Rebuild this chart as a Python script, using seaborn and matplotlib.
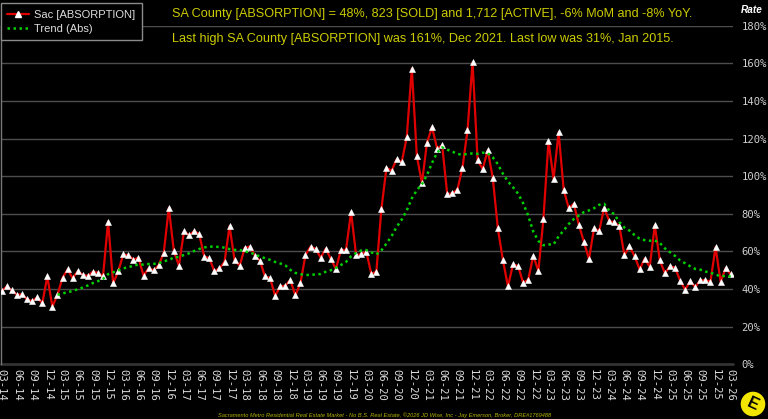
import numpy as np
import pandas as pd
import matplotlib
matplotlib.use("Agg")
import matplotlib.pyplot as plt
from matplotlib.lines import Line2D
from matplotlib.patches import Ellipse
import seaborn as sns

# ---------------- data ----------------
months = pd.date_range("2014-03-01", periods=145, freq="MS")

absorption = [
    39.0, 41.4, 39.3, 37.0, 37.2, 34.5, 33.6, 35.6, 32.4, 46.7, 30.6, 37.0,
    46.0, 50.4, 45.8, 49.5, 47.6, 47.0, 49.2, 48.7, 46.7, 75.9, 43.0, 49.4,
    58.4, 58.0, 55.7, 56.6, 47.2, 51.0, 50.0, 52.7, 59.3, 83.2, 60.0, 52.5,
    70.8, 68.6, 70.8, 69.2, 57.3, 56.4, 49.4, 51.0, 54.5, 73.4, 55.2, 52.5,
    61.9, 62.6, 57.8, 55.1, 46.7, 45.9, 36.4, 41.4, 41.8, 44.8, 36.6, 43.2,
    58.1, 62.6, 61.3, 56.7, 61.5, 56.0, 50.7, 60.8, 60.8, 80.9, 58.1, 58.5,
    59.9, 48.2, 49.2, 82.8, 104.5, 102.9, 109.0, 107.4, 120.7, 157.2, 110.6, 96.4,
    117.9, 126.0, 114.7, 116.4, 90.3, 91.0, 92.8, 104.4, 124.3, 160.5, 108.4, 103.8,
    113.8, 99.0, 72.2, 55.3, 41.4, 53.2, 52.1, 43.4, 45.0, 57.8, 49.6, 77.3,
    118.6, 98.5, 123.4, 92.8, 83.0, 85.4, 74.2, 65.0, 55.9, 72.3, 70.7, 83.2,
    76.2, 75.5, 73.5, 58.0, 62.7, 57.5, 50.5, 56.2, 51.8, 73.9, 55.2, 48.4,
    52.1, 51.4, 44.5, 39.7, 44.1, 41.1, 44.7, 44.7, 44.0, 62.3, 44.0, 51.1,
    47.9,
]

# trend line values (start Feb 2015)
trend = [
    37.0,
    37.6, 38.4, 38.9, 39.9, 40.8, 41.9, 43.2, 44.2, 45.4, 47.9, 48.9, 49.9,
    51.0, 51.6, 52.4, 53.0, 53.0, 53.3, 53.4, 53.7, 54.8, 55.4, 56.8, 57.1,
    58.1, 59.0, 60.2, 61.3, 62.1, 62.6, 62.5, 62.4, 62.0, 61.2, 60.8, 60.8,
    60.0, 59.5, 58.4, 57.3, 56.4, 55.5, 54.4, 53.6, 52.6, 50.2, 48.6, 47.9,
    47.5, 47.5, 47.8, 48.0, 49.2, 50.0, 51.2, 52.8, 54.4, 57.4, 59.2, 60.5,
    60.7, 59.5, 58.4, 60.6, 64.2, 68.1, 73.0, 76.9, 81.8, 88.2, 92.6, 95.7,
    100.6, 107.1, 112.5, 115.3, 114.1, 113.1, 111.8, 111.5, 111.8, 112.1, 111.9, 112.5,
    112.2, 110.0, 106.4, 101.3, 97.2, 94.1, 90.7, 85.6, 79.0, 70.5, 65.6, 63.3,
    63.7, 63.7, 68.0, 71.1, 74.6, 77.2, 79.1, 80.9, 81.8, 83.0, 84.8, 85.3,
    81.7, 79.8, 75.6, 72.7, 71.1, 68.7, 66.8, 66.0, 65.7, 65.8, 64.5, 61.6,
    59.6, 57.6, 55.2, 53.7, 52.1, 50.7, 50.3, 49.3, 48.7, 47.7, 46.8, 47.0,
    46.6,
]

tick_labels = [
    "03-14", "06-14", "09-14", "12-14", "03-15", "06-15", "09-15", "12-15",
    "03-16", "06-16", "09-16", "12-16", "03-17", "06-17", "09-17", "12-17",
    "03-18", "06-18", "09-18", "12-18", "03-19", "06-19", "09-19", "12-19",
    "03-20", "06-20", "09-20", "12-20", "03-21", "06-21", "09-21", "12-21",
    "03-22", "06-22", "09-22", "12-22", "03-23", "06-23", "09-23", "12-23",
    "03-24", "06-24", "09-24", "12-24", "03-25", "06-25", "09-25", "12-25",
    "03-26",
]

y_ticks = [0, 20, 40, 60, 80, 100, 120, 140, 160, 180]
y_tick_labels = [f"{v}%" for v in y_ticks]

series_name = "Sac [ABSORPTION]"
trend_name = "Trend (Abs)"
headline1 = "SA County [ABSORPTION] = 48%, 823 [SOLD] and 1,712 [ACTIVE], -6% MoM and -8% YoY."
headline2 = "Last high SA County [ABSORPTION] was 161%, Dec 2021. Last low was 31%, Jan 2015."
footer = ("Sacramento Metro Residential Real Estate Market - No B.S. Real Estate, "
          "\u00a92026 JD Wise, Inc - Jay Emerson, Broker, DRE#1769488")

n = len(absorption)
df = pd.DataFrame({"idx": np.arange(n), "month": months, "val": absorption})
df_tr = pd.DataFrame({"idx": np.arange(n - len(trend), n), "val": trend})

# ---------------- style ----------------
sns.set_style("dark")
plt.rcParams["font.family"] = ["Liberation Sans", "DejaVu Sans"]

W, H = 768, 419
fig = plt.figure(figsize=(W / 100, H / 100), dpi=100, facecolor="black")
left_px, right_px, top_px, bot_px = 0.5, 733, 25.7, 364.3
ax = fig.add_axes([left_px / W, 1 - bot_px / H, (right_px - left_px) / W, (bot_px - top_px) / H])
ax.set_facecolor("black")

RED = "#e00000"
GREEN = "#00d000"
YEL = "#cccc00"

sns.lineplot(data=df, x="idx", y="val", ax=ax, color=RED, linewidth=1.6,
             marker="^", markersize=4.5, markerfacecolor="white",
             markeredgecolor="white", markeredgewidth=0.4, legend=False, zorder=3)
sns.lineplot(data=df_tr, x="idx", y="val", ax=ax, color=GREEN, linewidth=1.8,
             linestyle=(0, (1, 1.4)), legend=False, zorder=4)

ax.set_xlim(-0.25, 144.45)
ax.set_ylim(0, 180)
ax.set_xlabel("")
ax.set_ylabel("")

for v in y_ticks[1:]:
    ax.axhline(v, color="#4d4d4d", linewidth=1.0, zorder=1)
ax.axhline(0, color="#333333", linewidth=2.0, zorder=1, clip_on=False)
ax.grid(False)

for s in ["top", "right", "bottom"]:
    ax.spines[s].set_visible(False)
ax.spines["left"].set_color("#777777")
ax.spines["left"].set_linewidth(1.0)

ax.yaxis.tick_right()
ax.set_yticks(y_ticks)
ax.set_yticklabels(y_tick_labels, family="DejaVu Sans Mono", fontsize=7.6, color="#cfcfcf")
ax.tick_params(axis="y", length=0, pad=6)

ax.set_xticks(np.arange(0, n, 3))
ax.set_xticklabels(tick_labels, rotation=-90, family="DejaVu Sans Mono",
                   fontsize=7.6, color="#dddddd", ha="center", va="top")
ax.tick_params(axis="x", length=0, pad=3.5)

# legend
handles = [
    Line2D([], [], color=RED, linewidth=1.6, marker="^", markersize=4.5,
           markerfacecolor="white", markeredgecolor="white"),
    Line2D([], [], color=GREEN, linewidth=1.8, linestyle=(0, (1, 1.4))),
]
leg = fig.legend(handles, [series_name, trend_name], loc="upper left",
                 bbox_to_anchor=(0.5 / W, 1 - 3 / H), frameon=True, fancybox=False,
                 fontsize=8.0, handlelength=2.0, handletextpad=0.45,
                 borderpad=0.6, labelspacing=0.35, borderaxespad=0)
leg.get_frame().set_facecolor("black")
leg.get_frame().set_edgecolor("#8a8a8a")
leg.get_frame().set_linewidth(1.0)
leg.get_frame().set_alpha(1)
for t in leg.get_texts():
    t.set_color("#dddddd")

# headlines
fig.text(172 / W, 1 - 14 / H, headline1, color=YEL, fontsize=9.1, va="center", ha="left")
fig.text(172 / W, 1 - 39 / H, headline2, color=YEL, fontsize=9.1, va="center", ha="left")

fig.text(752 / W, 1 - 10 / H, "Rate", color="white", fontsize=7.2,
         fontweight="bold", fontstyle="italic", ha="center", va="center")

fig.text(385 / W, 1 - 415.5 / H, footer, color="#b5b500", fontsize=4.1,
         fontstyle="italic", ha="center", va="center")

# logo
fig.patches.append(Ellipse((753 / W, 1 - 404 / H), 26 / W, 26 / H,
                           transform=fig.transFigure, facecolor="#f2e600",
                           edgecolor="black", linewidth=1.0, zorder=5))
fig.text(753 / W, 1 - 404 / H, "E", color="black", fontsize=12, fontweight="bold",
         ha="center", va="center", rotation=-25, zorder=6)

fig.savefig("out.png", dpi=100, facecolor="black")
